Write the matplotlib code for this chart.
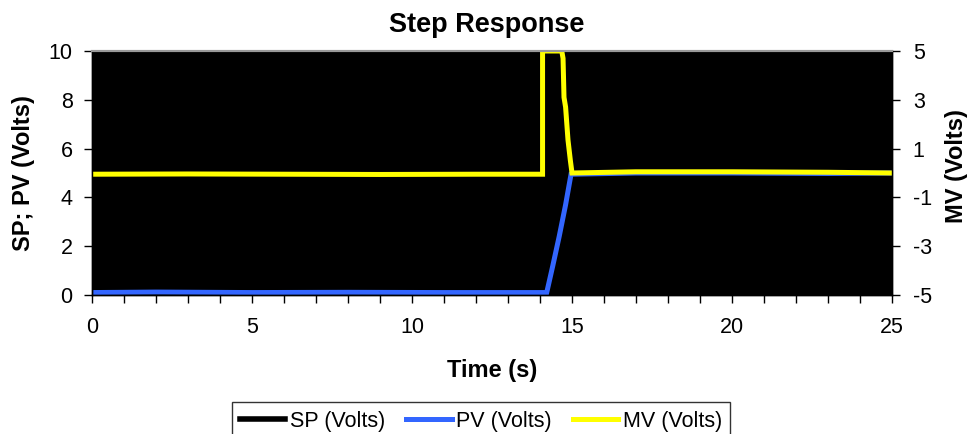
import matplotlib
matplotlib.use("Agg")
import matplotlib.pyplot as plt
from matplotlib.ticker import MultipleLocator

plt.rcParams['font.family'] = ['Liberation Sans', 'DejaVu Sans']
plt.rcParams['axes.unicode_minus'] = False

# Data (time in seconds)
sp_t = [0, 14.08, 14.08, 25]
sp_v = [0.0, 0.0, 5.0, 5.0]

pv_t = [0, 2, 5, 8, 11, 14.21, 14.4, 14.6, 14.8, 14.97, 17, 20, 23, 25]
pv_v = [0.1, 0.12, 0.1, 0.11, 0.1, 0.1, 1.2, 2.4, 3.7, 4.95, 5.0, 5.0, 4.98, 5.0]

mv_t = [0, 3, 6, 9, 12, 14.08, 14.08, 14.68, 14.72, 14.75, 14.8, 14.875, 14.95, 15.0, 17, 20, 23, 25]
mv_v = [-0.05, -0.04, -0.05, -0.06, -0.05, -0.05, 5.0, 5.0, 4.7, 3.1, 2.7, 1.35, 0.5, 0.0, 0.05, 0.05, 0.03, 0.0]

xticks = [0, 5, 10, 15, 20, 25]
left_ticks = [0, 2, 4, 6, 8, 10]
right_ticks = [-5, -3, -1, 1, 3, 5]

fig = plt.figure(figsize=(9.7, 4.34), dpi=100)
ax = fig.add_axes([92/970, 1 - 295/434, 800/970, 244/434])
ax.set_facecolor('black')
ax2 = ax.twinx()

l_sp, = ax.plot(sp_t, sp_v, color='black', lw=4, label='SP (Volts)')
l_pv, = ax.plot(pv_t, pv_v, color='#3366ff', lw=3.6, label='PV (Volts)', solid_joinstyle='miter')
l_mv, = ax2.plot(mv_t, mv_v, color='#ffff00', lw=3.6, label='MV (Volts)', solid_joinstyle='miter')

ax.set_xlim(0, 25)
ax.set_ylim(0, 10)
ax2.set_ylim(-5, 5)
ax.set_xticks(xticks)
ax.xaxis.set_minor_locator(MultipleLocator(1))
ax.set_yticks(left_ticks)
ax2.set_yticks(right_ticks)

fs = 15.5
ax.tick_params(axis='both', which='both', direction='out', length=6, width=1, labelsize=fs, colors='black')
ax.tick_params(axis='x', which='both', pad=10)
ax.tick_params(axis='y', pad=8)
ax2.tick_params(axis='y', direction='out', length=6, width=1, labelsize=fs, pad=9)

for a in (ax, ax2):
    a.spines['top'].set_color('#999999')
    a.spines['top'].set_linewidth(1.5)
    for s in ('left', 'right', 'bottom'):
        a.spines[s].set_color('black')
        a.spines[s].set_linewidth(1)

lab_fs = 17
ax.set_xlabel('Time (s)', fontsize=lab_fs, fontweight='bold')
ax.xaxis.set_label_coords(0.5, (295 - 370) / 244)
ax.xaxis.label.set_va('center')
ax.set_ylabel('SP; PV (Volts)', fontsize=lab_fs, fontweight='bold')
ax.yaxis.set_label_coords((24 - 92) / 800, 0.5)
ax.yaxis.label.set_va('center')
ax2.set_ylabel('MV (Volts)', fontsize=lab_fs, fontweight='bold', rotation=90)
ax2.yaxis.set_label_coords((957 - 92) / 800, 0.53)
ax2.yaxis.label.set_va('center')

fig.text(487/970, 1 - 32/434, 'Step Response', fontsize=19.5, fontweight='bold',
         ha='center', va='baseline')

leg = fig.legend(handles=[l_sp, l_pv, l_mv], loc='upper center',
                 bbox_to_anchor=(481/970, 1 - 402/434), ncol=3, frameon=True,
                 fancybox=False, edgecolor='black', fontsize=15.5,
                 handlelength=2.1, handletextpad=0.2, columnspacing=1.0,
                 borderpad=0.4, borderaxespad=0)
leg.get_frame().set_linewidth(1)

fig.savefig('out.png', dpi=100)
